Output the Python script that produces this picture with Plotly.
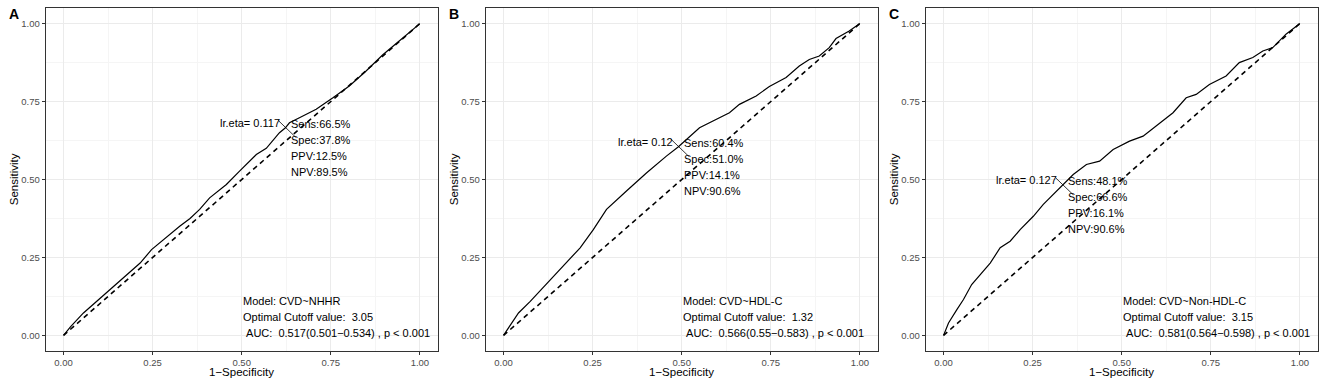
import plotly.graph_objects as go

# ---- data ----
panel_labels = ["A", "B", "C"]
models = ["CVD~NHHR", "CVD~HDL-C", "CVD~Non-HDL-C"]
cutoffs = ["3.05", "1.32", "3.15"]
aucs = ["0.517(0.501\u22120.534)", "0.566(0.55\u22120.583)", "0.581(0.564\u22120.598)"]
lr_eta = ["0.117", "0.12", "0.127"]
sens = [66.5, 60.4, 48.1]
spec = [37.8, 51.0, 66.6]
ppv = [12.5, 14.1, 16.1]
npv = [89.5, 90.6, 90.6]

fpr_a = [0, 0.02, 0.056, 0.103, 0.14, 0.177, 0.215, 0.247, 0.289, 0.326, 0.355, 0.382, 0.41, 0.457,
         0.494, 0.541, 0.569, 0.606, 0.622, 0.634, 0.662, 0.709, 0.756, 0.802, 0.849, 0.896, 0.942, 0.97, 1]
tpr_a = [0, 0.028, 0.072, 0.12, 0.155, 0.195, 0.232, 0.275, 0.316, 0.35, 0.375, 0.404, 0.441, 0.484,
         0.527, 0.58, 0.60, 0.65, 0.665, 0.682, 0.698, 0.725, 0.762, 0.80, 0.848, 0.90, 0.944, 0.97, 1]

fpr_b = [0, 0.019, 0.042, 0.075, 0.093, 0.121, 0.168, 0.215, 0.252, 0.289, 0.345, 0.401, 0.457, 0.49,
         0.55, 0.597, 0.634, 0.662, 0.709, 0.746, 0.793, 0.83, 0.858, 0.886, 0.914, 0.933, 0.97, 1]
tpr_b = [0, 0.034, 0.072, 0.109, 0.131, 0.168, 0.222, 0.281, 0.339, 0.404, 0.463, 0.521, 0.575, 0.604,
         0.666, 0.693, 0.714, 0.741, 0.768, 0.798, 0.827, 0.864, 0.885, 0.896, 0.923, 0.952, 0.976, 1]

fpr_c = [0, 0.014, 0.037, 0.056, 0.079, 0.103, 0.131, 0.159, 0.187, 0.215, 0.252, 0.28, 0.308, 0.334,
         0.364, 0.401, 0.438, 0.476, 0.522, 0.56, 0.597, 0.644, 0.681, 0.709, 0.746, 0.793, 0.83, 0.868,
         0.896, 0.924, 0.961, 1]
tpr_c = [0, 0.04, 0.082, 0.115, 0.163, 0.195, 0.232, 0.281, 0.302, 0.339, 0.382, 0.42, 0.452, 0.481,
         0.516, 0.548, 0.559, 0.596, 0.623, 0.639, 0.671, 0.714, 0.762, 0.773, 0.805, 0.832, 0.875, 0.891,
         0.912, 0.923, 0.966, 1]

curves = [(fpr_a, tpr_a), (fpr_b, tpr_b), (fpr_c, tpr_c)]
tick_vals = [0, 0.25, 0.5, 0.75, 1.0]
tick_text = ["0.00", "0.25", "0.50", "0.75", "1.00"]

# ---- layout geometry (pixels) ----
W, H = 1325, 386
left_px = [45.7, 485.7, 925.7]
panel_w = 392
top_px, bot_px = 8, 351
FONT = "Liberation Sans, Arial, sans-serif"

fig = go.Figure()
annotations = []

for i in range(3):
    xa = "x" if i == 0 else f"x{i+1}"
    ya = "y" if i == 0 else f"y{i+1}"
    fx, ty = curves[i]
    # diagonal reference
    fig.add_trace(go.Scatter(x=[0, 1], y=[0, 1], mode="lines", xaxis=xa, yaxis=ya,
                             line=dict(color="black", width=1.6, dash="5px,4px"),
                             showlegend=False, hoverinfo="skip"))
    # ROC curve
    fig.add_trace(go.Scatter(x=fx, y=ty, mode="lines", xaxis=xa, yaxis=ya,
                             line=dict(color="black", width=1.2),
                             showlegend=False))
    cx = 1 - spec[i] / 100
    cy = sens[i] / 100
    # leader segment through the optimal point
    fig.add_trace(go.Scatter(x=[cx - 0.02, cx + 0.03], y=[cy + 0.025, cy - 0.03], mode="lines",
                             xaxis=xa, yaxis=ya, line=dict(color="black", width=0.8),
                             showlegend=False, hoverinfo="skip"))
    annotations.append(dict(x=cx - 0.01, y=cy + 0.017, xref=xa, yref=ya, xanchor="right",
                            yanchor="middle", showarrow=False, text=f"lr.eta= {lr_eta[i]}",
                            font=dict(family=FONT, size=11, color="black")))
    block = [f"Sens:{sens[i]:.1f}%", f"Spec:{spec[i]:.1f}%", f"PPV:{ppv[i]:.1f}%", f"NPV:{npv[i]:.1f}%"]
    for k, t in enumerate(block):
        annotations.append(dict(x=cx + 0.01, y=cy + 0.013 - 0.0514 * k, xref=xa, yref=ya,
                                xanchor="left", yanchor="middle", showarrow=False, text=t,
                                font=dict(family=FONT, size=11, color="black")))
    info = [f"Model: {models[i]}", f"Optimal Cutoff value:\u00a0 {cutoffs[i]}",
            f"\u00a0AUC:\u00a0 {aucs[i]} , p < 0.001"]
    for k, t in enumerate(info):
        annotations.append(dict(x=0.498, y=0.109 - 0.0514 * k, xref=xa, yref=ya,
                                xanchor="left", yanchor="middle", showarrow=False, text=t,
                                font=dict(family=FONT, size=11, color="black")))

    x0 = left_px[i] / W
    x1 = (left_px[i] + panel_w) / W
    y0 = (H - bot_px) / H
    y1 = (H - top_px) / H
    axis_common = dict(range=[-0.05, 1.05], tickvals=tick_vals, ticktext=tick_text,
                       showgrid=True, gridcolor="#EBEBEB", gridwidth=1,
                       minor=dict(tickvals=[0.125, 0.375, 0.625, 0.875], showgrid=True,
                                  gridcolor="#F5F5F5", gridwidth=0.6, ticks=""),
                       zeroline=False, showline=True, linecolor="#333333", linewidth=1,
                       mirror=True, ticks="outside", ticklen=3, tickcolor="#333333", tickwidth=1,
                       tickfont=dict(family=FONT, size=9.5, color="#4D4D4D"), fixedrange=True)
    xkey = "xaxis" if i == 0 else f"xaxis{i+1}"
    ykey = "yaxis" if i == 0 else f"yaxis{i+1}"
    fig.update_layout(**{
        xkey: dict(domain=[x0, x1], anchor=ya, **axis_common),
        ykey: dict(domain=[y0, y1], anchor=xa, **axis_common),
    })
    # axis titles and panel label
    xc = (left_px[i] + panel_w / 2) / W
    annotations.append(dict(x=xc, y=(H - 372) / H, xref="paper", yref="paper", showarrow=False,
                            xanchor="center", yanchor="middle", text="1\u2212Specificity",
                            font=dict(family=FONT, size=11.5, color="black")))
    annotations.append(dict(x=(left_px[i] - 32) / W, y=(H - (top_px + bot_px) / 2) / H,
                            xref="paper", yref="paper", showarrow=False, textangle=-90,
                            xanchor="center", yanchor="middle", text="Sensitivity",
                            font=dict(family=FONT, size=11.5, color="black")))
    annotations.append(dict(x=(left_px[i] - 31.5) / W, y=(H - 14) / H, xref="paper", yref="paper",
                            showarrow=False, xanchor="center", yanchor="middle",
                            text=f"<b>{panel_labels[i]}</b>",
                            font=dict(family=FONT, size=14, color="black")))

fig.update_layout(width=W, height=H, margin=dict(l=0, r=0, t=0, b=0),
                  plot_bgcolor="white", paper_bgcolor="white", showlegend=False,
                  annotations=annotations, font=dict(family=FONT))

fig.write_html("out.html", config={"displayModeBar": False},
               post_script="document.body.style.margin='0';document.body.style.overflow='hidden';")
